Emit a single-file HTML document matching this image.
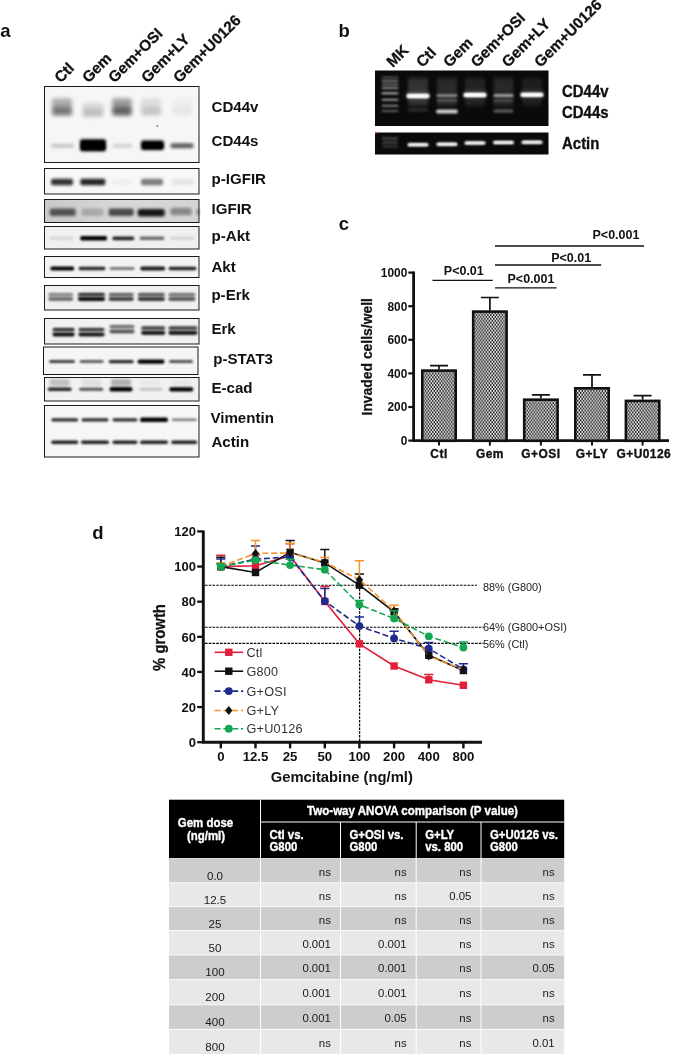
<!DOCTYPE html><html><head><meta charset="utf-8"><title>figure</title>
<style>html,body{margin:0;padding:0;background:#fff}body{width:685px;height:1054px;overflow:hidden}svg{display:block;filter:blur(0.4px)}text{font-family:"Liberation Sans",sans-serif}</style></head><body>
<svg width="685" height="1054" viewBox="0 0 685 1054">
<defs>
<filter id="b1" x="-30%" y="-100%" width="160%" height="300%"><feGaussianBlur stdDeviation="1.2 0.9"/></filter>
<filter id="b2" x="-30%" y="-100%" width="160%" height="300%"><feGaussianBlur stdDeviation="2 2.2"/></filter>
<filter id="b3" x="-30%" y="-100%" width="160%" height="300%"><feGaussianBlur stdDeviation="1.5 1.4"/></filter>
<filter id="g1" x="-30%" y="-100%" width="160%" height="300%"><feGaussianBlur stdDeviation="1.1 0.8"/></filter>
<filter id="g2" x="-30%" y="-100%" width="160%" height="300%"><feGaussianBlur stdDeviation="1.6 2.2"/></filter>
<pattern id="chk" width="2.9" height="3.9" patternUnits="userSpaceOnUse"><rect width="2.9" height="3.9" fill="#1c1c1c"/><circle cx="0.725" cy="0.975" r="0.96" fill="#fff"/><circle cx="2.175" cy="2.925" r="0.96" fill="#fff"/></pattern>
<linearGradient id="igf" x1="0" x2="1" y1="0" y2="0"><stop offset="0" stop-color="#c9c9c9"/><stop offset="0.5" stop-color="#d8d8d8"/><stop offset="1" stop-color="#d4d4d4"/></linearGradient>
</defs>
<rect width="685" height="1054" fill="#fff"/>
<text x="0.2" y="36.5" font-size="18.5" font-weight="bold" text-anchor="start" fill="#111" >a</text>
<text transform="translate(60.7,83.5) rotate(-45)" font-size="15.3" font-weight="bold" fill="#111" stroke="#111" stroke-width="0.3">Ctl</text>
<text transform="translate(88.4,83.5) rotate(-45)" font-size="15.3" font-weight="bold" fill="#111" stroke="#111" stroke-width="0.3">Gem</text>
<text transform="translate(114.5,83.5) rotate(-45)" font-size="15.3" font-weight="bold" fill="#111" stroke="#111" stroke-width="0.3">Gem+OSI</text>
<text transform="translate(147.6,83.5) rotate(-45)" font-size="15.3" font-weight="bold" fill="#111" stroke="#111" stroke-width="0.3">Gem+LY</text>
<text transform="translate(179.5,83.5) rotate(-45)" font-size="15.3" font-weight="bold" fill="#111" stroke="#111" stroke-width="0.3">Gem+U0126</text>
<rect x="44.5" y="86.5" width="154.5" height="76" fill="#f6f6f6" stroke="#1a1a1a" stroke-width="1"/>
<rect x="44.5" y="168.5" width="154.5" height="25.5" fill="#f7f7f7" stroke="#1a1a1a" stroke-width="1"/>
<rect x="44.5" y="199.5" width="154.5" height="23" fill="url(#igf)" stroke="#1a1a1a" stroke-width="1"/>
<rect x="44.5" y="226.5" width="154.5" height="22.5" fill="#f0f0f0" stroke="#1a1a1a" stroke-width="1"/>
<rect x="44.5" y="256.5" width="154.5" height="21" fill="#f3f3f3" stroke="#1a1a1a" stroke-width="1"/>
<rect x="44.5" y="285.5" width="154.5" height="24.5" fill="#f0f0f0" stroke="#1a1a1a" stroke-width="1"/>
<rect x="44.5" y="318.5" width="154.5" height="25.5" fill="#f1f1f1" stroke="#1a1a1a" stroke-width="1"/>
<rect x="43.5" y="347" width="154.5" height="27.5" fill="#f5f5f5" stroke="#1a1a1a" stroke-width="1"/>
<rect x="44.5" y="377.5" width="154.5" height="23.5" fill="#f1f1f1" stroke="#1a1a1a" stroke-width="1"/>
<rect x="44.5" y="405.5" width="154.5" height="51.5" fill="#f6f6f6" stroke="#1a1a1a" stroke-width="1"/>
<rect x="52.0" y="98.5" width="20" height="17" rx="2.0" fill="#000" opacity="0.31" filter="url(#b2)"/>
<rect x="52.5" y="107.0" width="19" height="8" rx="2.0" fill="#000" opacity="0.3" filter="url(#b2)"/>
<rect x="82.5" y="102.9" width="21" height="13" rx="2.0" fill="#000" opacity="0.124" filter="url(#b2)"/>
<rect x="83.0" y="109.0" width="20" height="8" rx="2.0" fill="#000" opacity="0.12" filter="url(#b2)"/>
<rect x="112.2" y="98.5" width="19.5" height="17" rx="2.0" fill="#000" opacity="0.372" filter="url(#b2)"/>
<rect x="112.8" y="107.0" width="18.5" height="8" rx="2.0" fill="#000" opacity="0.36" filter="url(#b2)"/>
<rect x="141.0" y="98.5" width="20" height="17" rx="2.0" fill="#000" opacity="0.10540000000000001" filter="url(#b2)"/>
<rect x="141.5" y="107.0" width="19" height="8" rx="2.0" fill="#000" opacity="0.10200000000000001" filter="url(#b2)"/>
<rect x="172.4" y="98.5" width="20" height="17" rx="2.0" fill="#000" opacity="0.031" filter="url(#b2)"/>
<rect x="172.9" y="107.0" width="19" height="8" rx="2.0" fill="#000" opacity="0.03" filter="url(#b2)"/>
<rect x="51.0" y="143.8" width="23" height="4" rx="2.0" fill="#000" opacity="0.2" filter="url(#b3)"/>
<rect x="80.0" y="139.3" width="26" height="12" rx="2.0" fill="#000" opacity="1" filter="url(#b3)"/>
<rect x="81.5" y="141.5" width="23" height="8" rx="2.0" fill="#000" opacity="1" filter="url(#b1)"/>
<rect x="112.5" y="143.8" width="20" height="4" rx="2.0" fill="#000" opacity="0.14" filter="url(#b3)"/>
<rect x="141.0" y="140.6" width="23" height="9.5" rx="2.0" fill="#000" opacity="1" filter="url(#b3)"/>
<rect x="142.5" y="142.8" width="20" height="5.5" rx="2.0" fill="#000" opacity="1" filter="url(#b1)"/>
<rect x="170.5" y="143.3" width="23" height="5" rx="2.0" fill="#000" opacity="0.62" filter="url(#b3)"/>
<circle cx="157.3" cy="125.9" r="0.9" fill="#555" opacity="0.8"/>
<rect x="51.0" y="178.8" width="22" height="6.5" rx="2.0" fill="#000" opacity="0.8" filter="url(#b3)"/>
<rect x="80.3" y="178.8" width="25" height="6.5" rx="2.0" fill="#000" opacity="0.85" filter="url(#b3)"/>
<rect x="112.0" y="178.8" width="20" height="6.5" rx="2.0" fill="#000" opacity="0.03" filter="url(#b3)"/>
<rect x="141.0" y="178.8" width="22" height="6.5" rx="2.0" fill="#000" opacity="0.5" filter="url(#b3)"/>
<rect x="172.0" y="178.8" width="22" height="6.5" rx="2.0" fill="#000" opacity="0.07" filter="url(#b3)"/>
<rect x="49.8" y="208.6" width="26" height="7.5" rx="2.0" fill="#000" opacity="0.6" filter="url(#b3)"/>
<rect x="81.5" y="208.6" width="22" height="7.5" rx="2.0" fill="#000" opacity="0.2" filter="url(#b3)"/>
<rect x="108.7" y="208.6" width="25" height="7.5" rx="2.0" fill="#000" opacity="0.66" filter="url(#b3)"/>
<rect x="137.7" y="209.1" width="27" height="7.5" rx="2.0" fill="#000" opacity="0.9" filter="url(#b3)"/>
<rect x="170.5" y="207.8" width="21" height="7.5" rx="2.0" fill="#000" opacity="0.36" filter="url(#b3)"/>
<rect x="196.5" y="209.0" width="3" height="6" rx="2.0" fill="#000" opacity="0.4" filter="url(#b3)"/>
<rect x="49.5" y="236.8" width="24" height="3" rx="1.5" fill="#000" opacity="0.1" filter="url(#b1)"/>
<rect x="80.1" y="236.1" width="27" height="4.4" rx="2.0" fill="#000" opacity="1" filter="url(#b1)"/>
<rect x="112.3" y="236.4" width="22" height="3.8" rx="1.9" fill="#000" opacity="0.85" filter="url(#b1)"/>
<rect x="139.5" y="236.6" width="25" height="3.5" rx="1.8" fill="#000" opacity="0.55" filter="url(#b1)"/>
<rect x="170.4" y="236.8" width="24" height="3" rx="1.5" fill="#000" opacity="0.12" filter="url(#b1)"/>
<rect x="50.3" y="266.4" width="24" height="4.2" rx="2.0" fill="#000" opacity="1" filter="url(#b1)"/>
<rect x="78.5" y="266.7" width="27" height="3.6" rx="1.8" fill="#000" opacity="0.85" filter="url(#b1)"/>
<rect x="109.7" y="267.0" width="25" height="3" rx="1.5" fill="#000" opacity="0.5" filter="url(#b1)"/>
<rect x="140.2" y="266.6" width="25" height="3.8" rx="1.9" fill="#000" opacity="0.9" filter="url(#b1)"/>
<rect x="168.5" y="266.7" width="28" height="3.6" rx="1.8" fill="#000" opacity="0.88" filter="url(#b1)"/>
<rect x="48.7" y="293.0" width="24" height="8" rx="2.0" fill="#000" opacity="0.14" filter="url(#b3)"/>
<rect x="48.2" y="293.1" width="25" height="3" rx="1.5" fill="#000" opacity="0.36" filter="url(#b1)"/>
<rect x="48.2" y="297.2" width="25" height="3.6" rx="1.8" fill="#000" opacity="0.5" filter="url(#b1)"/>
<rect x="78.5" y="293.0" width="26" height="8" rx="2.0" fill="#000" opacity="0.28" filter="url(#b3)"/>
<rect x="78.0" y="293.1" width="27" height="3" rx="1.5" fill="#000" opacity="0.72" filter="url(#b1)"/>
<rect x="78.0" y="297.2" width="27" height="3.6" rx="1.8" fill="#000" opacity="1" filter="url(#b1)"/>
<rect x="109.2" y="293.0" width="24" height="8" rx="2.0" fill="#000" opacity="0.196" filter="url(#b3)"/>
<rect x="108.7" y="293.1" width="25" height="3" rx="1.5" fill="#000" opacity="0.504" filter="url(#b1)"/>
<rect x="108.7" y="297.2" width="25" height="3.6" rx="1.8" fill="#000" opacity="0.7" filter="url(#b1)"/>
<rect x="138.4" y="293.0" width="26" height="8" rx="2.0" fill="#000" opacity="0.21280000000000002" filter="url(#b3)"/>
<rect x="137.9" y="293.1" width="27" height="3" rx="1.5" fill="#000" opacity="0.5472" filter="url(#b1)"/>
<rect x="137.9" y="297.2" width="27" height="3.6" rx="1.8" fill="#000" opacity="0.76" filter="url(#b1)"/>
<rect x="168.9" y="293.0" width="26" height="8" rx="2.0" fill="#000" opacity="0.168" filter="url(#b3)"/>
<rect x="168.4" y="293.1" width="27" height="3" rx="1.5" fill="#000" opacity="0.432" filter="url(#b1)"/>
<rect x="168.4" y="297.2" width="27" height="3.6" rx="1.8" fill="#000" opacity="0.6" filter="url(#b1)"/>
<rect x="53.1" y="328.2" width="21" height="8" rx="2.0" fill="#000" opacity="0.2375" filter="url(#b3)"/>
<rect x="52.6" y="328.1" width="22" height="3" rx="1.5" fill="#000" opacity="0.76" filter="url(#b1)"/>
<rect x="52.6" y="332.7" width="22" height="3.6" rx="1.8" fill="#000" opacity="0.95" filter="url(#b1)"/>
<rect x="79.0" y="328.2" width="25" height="8" rx="2.0" fill="#000" opacity="0.225" filter="url(#b3)"/>
<rect x="78.5" y="328.1" width="26" height="3" rx="1.5" fill="#000" opacity="0.7200000000000001" filter="url(#b1)"/>
<rect x="78.5" y="332.7" width="26" height="3.6" rx="1.8" fill="#000" opacity="0.9" filter="url(#b1)"/>
<rect x="110.0" y="325.2" width="24" height="8" rx="2.0" fill="#000" opacity="0.15" filter="url(#b3)"/>
<rect x="109.5" y="325.1" width="25" height="3" rx="1.5" fill="#000" opacity="0.48" filter="url(#b1)"/>
<rect x="109.5" y="329.7" width="25" height="3.6" rx="1.8" fill="#000" opacity="0.6" filter="url(#b1)"/>
<rect x="141.7" y="326.6" width="23" height="8" rx="2.0" fill="#000" opacity="0.225" filter="url(#b3)"/>
<rect x="141.2" y="326.5" width="24" height="3" rx="1.5" fill="#000" opacity="0.7200000000000001" filter="url(#b1)"/>
<rect x="141.2" y="331.1" width="24" height="3.6" rx="1.8" fill="#000" opacity="0.9" filter="url(#b1)"/>
<rect x="169.0" y="326.6" width="28" height="8" rx="2.0" fill="#000" opacity="0.225" filter="url(#b3)"/>
<rect x="168.5" y="326.5" width="29" height="3" rx="1.5" fill="#000" opacity="0.7200000000000001" filter="url(#b1)"/>
<rect x="168.5" y="331.1" width="29" height="3.6" rx="1.8" fill="#000" opacity="0.9" filter="url(#b1)"/>
<rect x="49.0" y="360.1" width="26" height="3" rx="1.5" fill="#000" opacity="0.75" filter="url(#b1)"/>
<rect x="79.7" y="360.1" width="24" height="3" rx="1.5" fill="#000" opacity="0.62" filter="url(#b1)"/>
<rect x="108.7" y="359.9" width="25" height="3.4" rx="1.7" fill="#000" opacity="0.85" filter="url(#b1)"/>
<rect x="137.5" y="359.4" width="27" height="4.4" rx="2.0" fill="#000" opacity="1" filter="url(#b1)"/>
<rect x="169.0" y="360.1" width="24" height="3" rx="1.5" fill="#000" opacity="0.68" filter="url(#b1)"/>
<rect x="47.7" y="387.6" width="24" height="3.4" rx="1.7" fill="#000" opacity="0.85" filter="url(#b1)"/>
<rect x="79.2" y="387.8" width="24" height="3" rx="1.5" fill="#000" opacity="0.68" filter="url(#b1)"/>
<rect x="109.5" y="387.0" width="23" height="4.6" rx="2.0" fill="#000" opacity="1" filter="url(#b1)"/>
<rect x="139.5" y="388.1" width="23" height="2.4" rx="1.2" fill="#000" opacity="0.22" filter="url(#b1)"/>
<rect x="169.3" y="387.2" width="24" height="4.2" rx="2.0" fill="#000" opacity="1" filter="url(#b1)"/>
<rect x="49.7" y="379.0" width="20" height="7" rx="2.0" fill="#000" opacity="0.2" filter="url(#b3)"/>
<rect x="81.2" y="379.0" width="20" height="7" rx="2.0" fill="#000" opacity="0.07" filter="url(#b3)"/>
<rect x="111.0" y="379.0" width="20" height="7" rx="2.0" fill="#000" opacity="0.28" filter="url(#b3)"/>
<rect x="141.0" y="379.0" width="20" height="7" rx="2.0" fill="#000" opacity="0.03" filter="url(#b3)"/>
<rect x="171.3" y="379.0" width="20" height="7" rx="2.0" fill="#000" opacity="0.03" filter="url(#b3)"/>
<rect x="51.2" y="418.2" width="27" height="3.2" rx="1.6" fill="#000" opacity="0.82" filter="url(#b1)"/>
<rect x="81.5" y="418.2" width="27" height="3.2" rx="1.6" fill="#000" opacity="0.82" filter="url(#b1)"/>
<rect x="112.4" y="418.2" width="25" height="3.2" rx="1.6" fill="#000" opacity="0.82" filter="url(#b1)"/>
<rect x="140.0" y="417.6" width="28" height="4.4" rx="2.0" fill="#000" opacity="1" filter="url(#b1)"/>
<rect x="171.7" y="418.5" width="25" height="2.6" rx="1.3" fill="#000" opacity="0.5" filter="url(#b1)"/>
<rect x="51.2" y="440.6" width="27" height="3.4" rx="1.7" fill="#000" opacity="0.88" filter="url(#b1)"/>
<rect x="81.0" y="440.6" width="28" height="3.4" rx="1.7" fill="#000" opacity="0.88" filter="url(#b1)"/>
<rect x="112.4" y="440.6" width="25" height="3.4" rx="1.7" fill="#000" opacity="0.88" filter="url(#b1)"/>
<rect x="140.0" y="440.6" width="28" height="3.4" rx="1.7" fill="#000" opacity="0.88" filter="url(#b1)"/>
<rect x="171.2" y="440.6" width="26" height="3.4" rx="1.7" fill="#000" opacity="0.88" filter="url(#b1)"/>
<text x="211.5" y="112.2" font-size="15.1" font-weight="bold" text-anchor="start" fill="#111" >CD44v</text>
<text x="211.5" y="146.2" font-size="15.1" font-weight="bold" text-anchor="start" fill="#111" >CD44s</text>
<text x="211.5" y="183.7" font-size="15.1" font-weight="bold" text-anchor="start" fill="#111" >p-IGFIR</text>
<text x="211.5" y="213.7" font-size="15.1" font-weight="bold" text-anchor="start" fill="#111" >IGFIR</text>
<text x="211.5" y="240.7" font-size="15.1" font-weight="bold" text-anchor="start" fill="#111" >p-Akt</text>
<text x="211.4" y="272.09999999999997" font-size="15.1" font-weight="bold" text-anchor="start" fill="#111" >Akt</text>
<text x="211.4" y="299.5" font-size="15.1" font-weight="bold" text-anchor="start" fill="#111" >p-Erk</text>
<text x="211.4" y="334.09999999999997" font-size="15.1" font-weight="bold" text-anchor="start" fill="#111" >Erk</text>
<text x="213.2" y="364.3" font-size="15.1" font-weight="bold" text-anchor="start" fill="#111" >p-STAT3</text>
<text x="211.4" y="393.0" font-size="15.1" font-weight="bold" text-anchor="start" fill="#111" >E-cad</text>
<text x="210.4" y="423.3" font-size="15.1" font-weight="bold" text-anchor="start" fill="#111" >Vimentin</text>
<text x="211.4" y="447.0" font-size="15.1" font-weight="bold" text-anchor="start" fill="#111" >Actin</text>
<text x="338.4" y="36.5" font-size="18.5" font-weight="bold" text-anchor="start" fill="#111" >b</text>
<text transform="translate(392.8,68) rotate(-45)" font-size="15.3" font-weight="bold" fill="#111" stroke="#111" stroke-width="0.3">MK</text>
<text transform="translate(422.5,68) rotate(-45)" font-size="15.3" font-weight="bold" fill="#111" stroke="#111" stroke-width="0.3">Ctl</text>
<text transform="translate(449.5,68) rotate(-45)" font-size="15.3" font-weight="bold" fill="#111" stroke="#111" stroke-width="0.3">Gem</text>
<text transform="translate(476.9,68) rotate(-45)" font-size="15.3" font-weight="bold" fill="#111" stroke="#111" stroke-width="0.3">Gem+OSI</text>
<text transform="translate(508,68) rotate(-45)" font-size="15.3" font-weight="bold" fill="#111" stroke="#111" stroke-width="0.3">Gem+LY</text>
<text transform="translate(540.6,68) rotate(-45)" font-size="15.3" font-weight="bold" fill="#111" stroke="#111" stroke-width="0.3">Gem+U0126</text>
<rect x="375" y="70.5" width="173.5" height="55.5" fill="#0a0a0a"/>
<rect x="375" y="132.5" width="173.5" height="22" fill="#0a0a0a"/>
<rect x="408" y="78" width="20" height="28" fill="#fff" opacity="0.16" filter="url(#g2)"/>
<rect x="437" y="78" width="20" height="28" fill="#fff" opacity="0.13" filter="url(#g2)"/>
<rect x="465" y="78" width="20" height="28" fill="#fff" opacity="0.1" filter="url(#g2)"/>
<rect x="493.5" y="78" width="20" height="28" fill="#fff" opacity="0.12" filter="url(#g2)"/>
<rect x="522" y="78" width="20" height="28" fill="#fff" opacity="0.08" filter="url(#g2)"/>
<rect x="381.5" y="76.5" width="17" height="2" rx="1.0" fill="#fff" opacity="0.3" filter="url(#g1)"/>
<rect x="381.5" y="80.0" width="17" height="2" rx="1.0" fill="#fff" opacity="0.45" filter="url(#g1)"/>
<rect x="381.5" y="83.5" width="17" height="2" rx="1.0" fill="#fff" opacity="0.45" filter="url(#g1)"/>
<rect x="381.5" y="87.0" width="17" height="2" rx="1.0" fill="#fff" opacity="0.55" filter="url(#g1)"/>
<rect x="381.5" y="92.3" width="17" height="2" rx="1.0" fill="#fff" opacity="0.7" filter="url(#g1)"/>
<rect x="381.5" y="98.7" width="17" height="2" rx="1.0" fill="#fff" opacity="0.6" filter="url(#g1)"/>
<rect x="381.5" y="104.8" width="17" height="2" rx="1.0" fill="#fff" opacity="0.5" filter="url(#g1)"/>
<rect x="381.5" y="110.0" width="17" height="2" rx="1.0" fill="#fff" opacity="0.35" filter="url(#g1)"/>
<rect x="406.5" y="93.9" width="23" height="4.2" rx="2.0" fill="#fff" opacity="1" filter="url(#g1)"/>
<rect x="407.5" y="94.7" width="21" height="2.6" rx="1.3" fill="#fff" opacity="1" filter="url(#g1)"/>
<rect x="406.0" y="92.5" width="24" height="6" rx="2.0" fill="#fff" opacity="0.22" filter="url(#g2)"/>
<rect x="408.0" y="108.5" width="20" height="3" rx="1.5" fill="#fff" opacity="0.14" filter="url(#g1)"/>
<rect x="436.5" y="94.2" width="21" height="2.5" rx="1.2" fill="#fff" opacity="0.5" filter="url(#g1)"/>
<rect x="436.5" y="99.5" width="21" height="2" rx="1.0" fill="#fff" opacity="0.28" filter="url(#g1)"/>
<rect x="436.0" y="109.4" width="22" height="4.2" rx="2.0" fill="#fff" opacity="0.8" filter="url(#g1)"/>
<rect x="463.5" y="93.1" width="23" height="3.8" rx="1.9" fill="#fff" opacity="1" filter="url(#g1)"/>
<rect x="464.5" y="93.8" width="21" height="2.4" rx="1.2" fill="#fff" opacity="1" filter="url(#g1)"/>
<rect x="463.0" y="91.5" width="24" height="6" rx="2.0" fill="#fff" opacity="0.2" filter="url(#g2)"/>
<rect x="493.5" y="94.0" width="20" height="3" rx="1.5" fill="#fff" opacity="0.55" filter="url(#g1)"/>
<rect x="493.5" y="99.5" width="20" height="2" rx="1.0" fill="#fff" opacity="0.2" filter="url(#g1)"/>
<rect x="493.5" y="109.2" width="20" height="3.5" rx="1.8" fill="#fff" opacity="0.32" filter="url(#g1)"/>
<rect x="520.5" y="92.9" width="23" height="3.8" rx="1.9" fill="#fff" opacity="1" filter="url(#g1)"/>
<rect x="521.5" y="93.6" width="21" height="2.4" rx="1.2" fill="#fff" opacity="1" filter="url(#g1)"/>
<rect x="520.0" y="91.3" width="24" height="6" rx="2.0" fill="#fff" opacity="0.2" filter="url(#g2)"/>
<rect x="382.0" y="137.6" width="16" height="1.8" rx="0.9" fill="#fff" opacity="0.3" filter="url(#g1)"/>
<rect x="382.0" y="141.6" width="16" height="1.8" rx="0.9" fill="#fff" opacity="0.28" filter="url(#g1)"/>
<rect x="382.0" y="145.6" width="16" height="1.8" rx="0.9" fill="#fff" opacity="0.2" filter="url(#g1)"/>
<rect x="407.5" y="143.3" width="21" height="3" rx="1.5" fill="#fff" opacity="1" filter="url(#g1)"/>
<rect x="408.5" y="143.8" width="19" height="2" rx="1.0" fill="#fff" opacity="0.8" filter="url(#g1)"/>
<rect x="436.5" y="142.7" width="21" height="3" rx="1.5" fill="#fff" opacity="1" filter="url(#g1)"/>
<rect x="437.5" y="143.2" width="19" height="2" rx="1.0" fill="#fff" opacity="0.8" filter="url(#g1)"/>
<rect x="464.5" y="141.5" width="21" height="3" rx="1.5" fill="#fff" opacity="1" filter="url(#g1)"/>
<rect x="465.5" y="142.0" width="19" height="2" rx="1.0" fill="#fff" opacity="0.8" filter="url(#g1)"/>
<rect x="493.0" y="141.0" width="21" height="3" rx="1.5" fill="#fff" opacity="1" filter="url(#g1)"/>
<rect x="494.0" y="141.5" width="19" height="2" rx="1.0" fill="#fff" opacity="0.8" filter="url(#g1)"/>
<rect x="521.5" y="140.8" width="21" height="3" rx="1.5" fill="#fff" opacity="1" filter="url(#g1)"/>
<rect x="522.5" y="141.3" width="19" height="2" rx="1.0" fill="#fff" opacity="0.8" filter="url(#g1)"/>
<rect x="375" y="132.5" width="2" height="1.2" fill="#e02020"/>
<text transform="translate(562.1,96.5) scale(0.95,1)" font-size="15.7" font-weight="bold" text-anchor="start" fill="#111" stroke="#111" stroke-width="0.35" >CD44v</text>
<text transform="translate(562.1,117.5) scale(0.95,1)" font-size="15.7" font-weight="bold" text-anchor="start" fill="#111" stroke="#111" stroke-width="0.35" >CD44s</text>
<text transform="translate(562.1,148.7) scale(0.95,1)" font-size="15.7" font-weight="bold" text-anchor="start" fill="#111" stroke="#111" stroke-width="0.35" >Actin</text>
<text x="338.7" y="229.5" font-size="18.5" font-weight="bold" text-anchor="start" fill="#111" >c</text>
<path d="M413.6,271.6V440.6H669" fill="none" stroke="#111" stroke-width="2.8"/>
<line x1="408.3" x2="413.6" y1="440.6" y2="440.6" stroke="#111" stroke-width="2.2"/>
<text x="407.3" y="444.90000000000003" font-size="11.9" font-weight="bold" text-anchor="end" fill="#111" >0</text>
<line x1="408.3" x2="413.6" y1="407.0" y2="407.0" stroke="#111" stroke-width="2.2"/>
<text x="407.3" y="411.3" font-size="11.9" font-weight="bold" text-anchor="end" fill="#111" >200</text>
<line x1="408.3" x2="413.6" y1="373.40000000000003" y2="373.40000000000003" stroke="#111" stroke-width="2.2"/>
<text x="407.3" y="377.70000000000005" font-size="11.9" font-weight="bold" text-anchor="end" fill="#111" >400</text>
<line x1="408.3" x2="413.6" y1="339.8" y2="339.8" stroke="#111" stroke-width="2.2"/>
<text x="407.3" y="344.1" font-size="11.9" font-weight="bold" text-anchor="end" fill="#111" >600</text>
<line x1="408.3" x2="413.6" y1="306.20000000000005" y2="306.20000000000005" stroke="#111" stroke-width="2.2"/>
<text x="407.3" y="310.50000000000006" font-size="11.9" font-weight="bold" text-anchor="end" fill="#111" >800</text>
<line x1="408.3" x2="413.6" y1="272.6" y2="272.6" stroke="#111" stroke-width="2.2"/>
<text x="407.3" y="276.90000000000003" font-size="11.9" font-weight="bold" text-anchor="end" fill="#111" >1000</text>
<path d="M439.0,369.4V365.7M430.0,365.7H448.0" stroke="#111" stroke-width="1.7" fill="none"/>
<rect x="422.3" y="370.59999999999997" width="33.4" height="70.20000000000005" fill="url(#chk)" stroke="#111" stroke-width="2.6"/>
<line x1="439.0" x2="439.0" y1="440.6" y2="445.6" stroke="#111" stroke-width="2"/>
<text transform="translate(439.0,457.6) scale(0.95,1)" font-size="12.6" font-weight="bold" text-anchor="middle" fill="#111" stroke="#111" stroke-width="0.35" letter-spacing="0.5">Ctl</text>
<path d="M489.9,310.4V297.5M480.9,297.5H498.9" stroke="#111" stroke-width="1.7" fill="none"/>
<rect x="473.2" y="311.59999999999997" width="33.4" height="129.20000000000005" fill="url(#chk)" stroke="#111" stroke-width="2.6"/>
<line x1="489.9" x2="489.9" y1="440.6" y2="445.6" stroke="#111" stroke-width="2"/>
<text transform="translate(489.9,457.6) scale(0.95,1)" font-size="12.6" font-weight="bold" text-anchor="middle" fill="#111" stroke="#111" stroke-width="0.35" letter-spacing="0.5">Gem</text>
<path d="M540.9,398.5V394.8M531.9,394.8H549.9" stroke="#111" stroke-width="1.7" fill="none"/>
<rect x="524.1999999999999" y="399.7" width="33.4" height="41.10000000000002" fill="url(#chk)" stroke="#111" stroke-width="2.6"/>
<line x1="540.9" x2="540.9" y1="440.6" y2="445.6" stroke="#111" stroke-width="2"/>
<text transform="translate(540.9,457.6) scale(0.95,1)" font-size="12.6" font-weight="bold" text-anchor="middle" fill="#111" stroke="#111" stroke-width="0.35" letter-spacing="0.5">G+OSI</text>
<path d="M592.0,387.1V374.8M583.0,374.8H601.0" stroke="#111" stroke-width="1.7" fill="none"/>
<rect x="575.3" y="388.3" width="33.4" height="52.5" fill="url(#chk)" stroke="#111" stroke-width="2.6"/>
<line x1="592.0" x2="592.0" y1="440.6" y2="445.6" stroke="#111" stroke-width="2"/>
<text transform="translate(592.0,457.6) scale(0.95,1)" font-size="12.6" font-weight="bold" text-anchor="middle" fill="#111" stroke="#111" stroke-width="0.35" letter-spacing="0.5">G+LY</text>
<path d="M642.6,399.7V395.6M633.6,395.6H651.6" stroke="#111" stroke-width="1.7" fill="none"/>
<rect x="625.9" y="400.9" width="33.4" height="39.900000000000034" fill="url(#chk)" stroke="#111" stroke-width="2.6"/>
<line x1="642.6" x2="642.6" y1="440.6" y2="445.6" stroke="#111" stroke-width="2"/>
<text transform="translate(643.8000000000001,457.6) scale(0.95,1)" font-size="12.6" font-weight="bold" text-anchor="middle" fill="#111" stroke="#111" stroke-width="0.35" letter-spacing="0.5">G+U0126</text>
<text transform="translate(372.2,356.8) rotate(-90)" stroke="#111" stroke-width="0.25" font-size="13.9" font-weight="bold" text-anchor="middle" fill="#111">Invaded cells/well</text>
<line x1="432.5" x2="492.7" y1="280.4" y2="280.4" stroke="#111" stroke-width="1.3"/>
<line x1="495" x2="556.6" y1="287.8" y2="287.8" stroke="#111" stroke-width="1.3"/>
<line x1="495" x2="601.2" y1="265" y2="265" stroke="#111" stroke-width="1.3"/>
<line x1="495" x2="644" y1="246" y2="246" stroke="#111" stroke-width="1.3"/>
<text x="443.8" y="275" font-size="12.5" font-weight="bold" text-anchor="start" fill="#111" >P&lt;0.01</text>
<text x="507.5" y="282.7" font-size="12.5" font-weight="bold" text-anchor="start" fill="#111" >P&lt;0.001</text>
<text x="551.2" y="261.5" font-size="12.5" font-weight="bold" text-anchor="start" fill="#111" >P&lt;0.01</text>
<text x="592.5" y="239" font-size="12.5" font-weight="bold" text-anchor="start" fill="#111" >P&lt;0.001</text>
<text x="92.2" y="539.2" font-size="18.5" font-weight="bold" text-anchor="start" fill="#111" >d</text>
<path d="M203.3,530.4200000000001V742.2H482" fill="none" stroke="#111" stroke-width="2.9"/>
<line x1="197.2" x2="203.3" y1="742.2" y2="742.2" stroke="#111" stroke-width="2.3"/>
<text x="196" y="746.9000000000001" font-size="13" font-weight="bold" text-anchor="end" fill="#111" >0</text>
<line x1="197.2" x2="203.3" y1="707.07" y2="707.07" stroke="#111" stroke-width="2.3"/>
<text x="196" y="711.7700000000001" font-size="13" font-weight="bold" text-anchor="end" fill="#111" >20</text>
<line x1="197.2" x2="203.3" y1="671.94" y2="671.94" stroke="#111" stroke-width="2.3"/>
<text x="196" y="676.6400000000001" font-size="13" font-weight="bold" text-anchor="end" fill="#111" >40</text>
<line x1="197.2" x2="203.3" y1="636.8100000000001" y2="636.8100000000001" stroke="#111" stroke-width="2.3"/>
<text x="196" y="641.5100000000001" font-size="13" font-weight="bold" text-anchor="end" fill="#111" >60</text>
<line x1="197.2" x2="203.3" y1="601.6800000000001" y2="601.6800000000001" stroke="#111" stroke-width="2.3"/>
<text x="196" y="606.3800000000001" font-size="13" font-weight="bold" text-anchor="end" fill="#111" >80</text>
<line x1="197.2" x2="203.3" y1="566.5500000000001" y2="566.5500000000001" stroke="#111" stroke-width="2.3"/>
<text x="196" y="571.2500000000001" font-size="13" font-weight="bold" text-anchor="end" fill="#111" >100</text>
<line x1="197.2" x2="203.3" y1="531.4200000000001" y2="531.4200000000001" stroke="#111" stroke-width="2.3"/>
<text x="196" y="536.1200000000001" font-size="13" font-weight="bold" text-anchor="end" fill="#111" >120</text>
<line x1="220.8" x2="220.8" y1="742.2" y2="748.4000000000001" stroke="#111" stroke-width="2.4"/>
<text x="220.8" y="761.2" font-size="13.2" font-weight="bold" text-anchor="middle" fill="#111" >0</text>
<line x1="255.5" x2="255.5" y1="742.2" y2="748.4000000000001" stroke="#111" stroke-width="2.4"/>
<text x="255.5" y="761.2" font-size="13.2" font-weight="bold" text-anchor="middle" fill="#111" >12.5</text>
<line x1="290.1" x2="290.1" y1="742.2" y2="748.4000000000001" stroke="#111" stroke-width="2.4"/>
<text x="290.1" y="761.2" font-size="13.2" font-weight="bold" text-anchor="middle" fill="#111" >25</text>
<line x1="324.8" x2="324.8" y1="742.2" y2="748.4000000000001" stroke="#111" stroke-width="2.4"/>
<text x="324.8" y="761.2" font-size="13.2" font-weight="bold" text-anchor="middle" fill="#111" >50</text>
<line x1="359.4" x2="359.4" y1="742.2" y2="748.4000000000001" stroke="#111" stroke-width="2.4"/>
<text x="359.4" y="761.2" font-size="13.2" font-weight="bold" text-anchor="middle" fill="#111" >100</text>
<line x1="394.1" x2="394.1" y1="742.2" y2="748.4000000000001" stroke="#111" stroke-width="2.4"/>
<text x="394.1" y="761.2" font-size="13.2" font-weight="bold" text-anchor="middle" fill="#111" >200</text>
<line x1="428.8" x2="428.8" y1="742.2" y2="748.4000000000001" stroke="#111" stroke-width="2.4"/>
<text x="428.8" y="761.2" font-size="13.2" font-weight="bold" text-anchor="middle" fill="#111" >400</text>
<line x1="463.4" x2="463.4" y1="742.2" y2="748.4000000000001" stroke="#111" stroke-width="2.4"/>
<text x="463.4" y="761.2" font-size="13.2" font-weight="bold" text-anchor="middle" fill="#111" >800</text>
<text x="341.8" y="782.4" font-size="14.8" font-weight="bold" text-anchor="middle" fill="#111" >Gemcitabine (ng/ml)</text>
<text transform="translate(165.2,637.5) rotate(-90) scale(0.93,1)" stroke="#111" stroke-width="0.3" font-size="16" font-weight="bold" text-anchor="middle" fill="#111">% growth</text>
<line x1="205" x2="477" y1="585.2" y2="585.2" stroke="#000" stroke-width="1.15" stroke-dasharray="2.6 1.15"/>
<text x="483" y="591" font-size="10.9" font-weight="normal" text-anchor="start" fill="#222" >88% (G800)</text>
<line x1="205" x2="483.5" y1="627.2" y2="627.2" stroke="#000" stroke-width="1.15" stroke-dasharray="2.6 1.15"/>
<text x="483" y="630.8" font-size="10.9" font-weight="normal" text-anchor="start" fill="#222" >64% (G800+OSI)</text>
<line x1="205" x2="483.5" y1="643.3" y2="643.3" stroke="#000" stroke-width="1.15" stroke-dasharray="2.6 1.15"/>
<text x="483" y="648" font-size="10.9" font-weight="normal" text-anchor="start" fill="#222" >56% (Ctl)</text>
<line x1="359.6" x2="359.6" y1="585" y2="742.2" stroke="#000" stroke-width="1.25" stroke-dasharray="2.6 1.15"/>
<path d="M220.8,566.6V555.3M216.2,555.3H225.4" stroke="#e11f3a" stroke-width="1.5" fill="none"/>
<path d="M255.5,565.7V555.1M250.9,555.1H260.1" stroke="#e11f3a" stroke-width="1.5" fill="none"/>
<path d="M290.1,556.0V543.7M285.5,543.7H294.7" stroke="#e11f3a" stroke-width="1.5" fill="none"/>
<path d="M324.8,601.5V586.6M320.2,586.6H329.4" stroke="#e11f3a" stroke-width="1.5" fill="none"/>
<path d="M428.8,679.8V674.6M424.2,674.6H433.4" stroke="#e11f3a" stroke-width="1.5" fill="none"/>
<polyline points="220.8,566.6 255.5,565.7 290.1,556.0 324.8,601.5 359.4,643.8 394.1,666.0 428.8,679.8 463.4,685.3" fill="none" stroke="#e11f3a" stroke-width="1.6" />
<rect x="217.1" y="562.9" width="7.4" height="7.4" fill="#e11f3a"/>
<rect x="251.8" y="562.0" width="7.4" height="7.4" fill="#e11f3a"/>
<rect x="286.4" y="552.3" width="7.4" height="7.4" fill="#e11f3a"/>
<rect x="321.1" y="597.8" width="7.4" height="7.4" fill="#e11f3a"/>
<rect x="355.7" y="640.1" width="7.4" height="7.4" fill="#e11f3a"/>
<rect x="390.4" y="662.3" width="7.4" height="7.4" fill="#e11f3a"/>
<rect x="425.1" y="676.1" width="7.4" height="7.4" fill="#e11f3a"/>
<rect x="459.7" y="681.6" width="7.4" height="7.4" fill="#e11f3a"/>
<path d="M220.8,566.6V557.2M216.2,557.2H225.4" stroke="#111" stroke-width="1.5" fill="none"/>
<path d="M290.1,552.3V540.4M285.5,540.4H294.7" stroke="#111" stroke-width="1.5" fill="none"/>
<path d="M324.8,562.9V549.5M320.2,549.5H329.4" stroke="#111" stroke-width="1.5" fill="none"/>
<path d="M359.4,585.2V574.1M354.8,574.1H364.0" stroke="#111" stroke-width="1.5" fill="none"/>
<path d="M394.1,611.9V608.9M389.5,608.9H398.7" stroke="#111" stroke-width="1.5" fill="none"/>
<polyline points="220.8,566.6 255.5,572.5 290.1,552.3 324.8,562.9 359.4,585.2 394.1,611.9 428.8,655.3 463.4,670.5" fill="none" stroke="#111" stroke-width="1.6" />
<rect x="217.1" y="562.9" width="7.4" height="7.4" fill="#111"/>
<rect x="251.8" y="568.8" width="7.4" height="7.4" fill="#111"/>
<rect x="286.4" y="548.6" width="7.4" height="7.4" fill="#111"/>
<rect x="321.1" y="559.2" width="7.4" height="7.4" fill="#111"/>
<rect x="355.7" y="581.5" width="7.4" height="7.4" fill="#111"/>
<rect x="390.4" y="608.2" width="7.4" height="7.4" fill="#111"/>
<rect x="425.1" y="651.6" width="7.4" height="7.4" fill="#111"/>
<rect x="459.7" y="666.8" width="7.4" height="7.4" fill="#111"/>
<path d="M220.8,566.6V559.0M216.2,559.0H225.4" stroke="#1f2a8c" stroke-width="1.5" fill="none"/>
<path d="M255.5,559.2V546.0M250.9,546.0H260.1" stroke="#1f2a8c" stroke-width="1.5" fill="none"/>
<path d="M324.8,601.2V588.5M320.2,588.5H329.4" stroke="#1f2a8c" stroke-width="1.5" fill="none"/>
<path d="M359.4,626.1V617.0M354.8,617.0H364.0" stroke="#1f2a8c" stroke-width="1.5" fill="none"/>
<path d="M394.1,638.4V631.2M389.5,631.2H398.7" stroke="#1f2a8c" stroke-width="1.5" fill="none"/>
<path d="M428.8,648.6V642.4M424.2,642.4H433.4" stroke="#1f2a8c" stroke-width="1.5" fill="none"/>
<path d="M463.4,669.3V663.7M458.8,663.7H468.0" stroke="#1f2a8c" stroke-width="1.5" fill="none"/>
<polyline points="220.8,566.6 255.5,559.2 290.1,556.9 324.8,601.2 359.4,626.1 394.1,638.4 428.8,648.6 463.4,669.3" fill="none" stroke="#1f2a8c" stroke-width="1.6" stroke-dasharray='6 2.8'/>
<circle cx="220.8" cy="566.6" r="3.9000000000000004" fill="#1f2a8c"/>
<circle cx="255.5" cy="559.2" r="3.9000000000000004" fill="#1f2a8c"/>
<circle cx="290.1" cy="556.9" r="3.9000000000000004" fill="#1f2a8c"/>
<circle cx="324.8" cy="601.2" r="3.9000000000000004" fill="#1f2a8c"/>
<circle cx="359.4" cy="626.1" r="3.9000000000000004" fill="#1f2a8c"/>
<circle cx="394.1" cy="638.4" r="3.9000000000000004" fill="#1f2a8c"/>
<circle cx="428.8" cy="648.6" r="3.9000000000000004" fill="#1f2a8c"/>
<circle cx="463.4" cy="669.3" r="3.9000000000000004" fill="#1f2a8c"/>
<path d="M220.8,566.6V562.7M216.2,562.7H225.4" stroke="#f5952b" stroke-width="1.5" fill="none"/>
<path d="M255.5,553.4V540.4M250.9,540.4H260.1" stroke="#f5952b" stroke-width="1.5" fill="none"/>
<path d="M290.1,553.0V543.2M285.5,543.2H294.7" stroke="#f5952b" stroke-width="1.5" fill="none"/>
<path d="M324.8,562.2V557.6M320.2,557.6H329.4" stroke="#f5952b" stroke-width="1.5" fill="none"/>
<path d="M359.4,579.7V560.8M354.8,560.8H364.0" stroke="#f5952b" stroke-width="1.5" fill="none"/>
<path d="M394.1,611.0V605.2M389.5,605.2H398.7" stroke="#f5952b" stroke-width="1.5" fill="none"/>
<polyline points="220.8,566.6 255.5,553.4 290.1,553.0 324.8,562.2 359.4,579.7 394.1,611.0 428.8,656.1 463.4,669.7" fill="none" stroke="#f5952b" stroke-width="1.6" stroke-dasharray='6 2.8'/>
<path d="M220.8,562.1L224.5,566.6L220.8,571.1L217.1,566.6Z" fill="#111"/>
<path d="M255.5,548.9L259.2,553.4L255.5,557.9L251.8,553.4Z" fill="#111"/>
<path d="M290.1,548.5L293.8,553.0L290.1,557.5L286.4,553.0Z" fill="#111"/>
<path d="M324.8,557.7L328.5,562.2L324.8,566.7L321.1,562.2Z" fill="#111"/>
<path d="M359.4,575.2L363.1,579.7L359.4,584.2L355.7,579.7Z" fill="#111"/>
<path d="M394.1,606.5L397.8,611.0L394.1,615.5L390.4,611.0Z" fill="#111"/>
<path d="M428.8,651.6L432.5,656.1L428.8,660.6L425.1,656.1Z" fill="#111"/>
<path d="M463.4,665.2L467.1,669.7L463.4,674.2L459.7,669.7Z" fill="#111"/>
<path d="M220.8,566.6V563.9M216.2,563.9H225.4" stroke="#14a651" stroke-width="1.5" fill="none"/>
<path d="M290.1,565.1V559.2M285.5,559.2H294.7" stroke="#14a651" stroke-width="1.5" fill="none"/>
<path d="M359.4,604.7V600.6M354.8,600.6H364.0" stroke="#14a651" stroke-width="1.5" fill="none"/>
<path d="M394.1,618.5V610.8M389.5,610.8H398.7" stroke="#14a651" stroke-width="1.5" fill="none"/>
<path d="M463.4,647.5V641.9M458.8,641.9H468.0" stroke="#14a651" stroke-width="1.5" fill="none"/>
<polyline points="220.8,566.6 255.5,560.1 290.1,565.1 324.8,569.7 359.4,604.7 394.1,618.5 428.8,636.3 463.4,647.5" fill="none" stroke="#14a651" stroke-width="1.6" stroke-dasharray='6 2.8'/>
<circle cx="220.8" cy="566.6" r="3.9000000000000004" fill="#14a651"/>
<circle cx="255.5" cy="560.1" r="3.9000000000000004" fill="#14a651"/>
<circle cx="290.1" cy="565.1" r="3.9000000000000004" fill="#14a651"/>
<circle cx="324.8" cy="569.7" r="3.9000000000000004" fill="#14a651"/>
<circle cx="359.4" cy="604.7" r="3.9000000000000004" fill="#14a651"/>
<circle cx="394.1" cy="618.5" r="3.9000000000000004" fill="#14a651"/>
<circle cx="428.8" cy="636.3" r="3.9000000000000004" fill="#14a651"/>
<circle cx="463.4" cy="647.5" r="3.9000000000000004" fill="#14a651"/>
<line x1="214.6" x2="243.2" y1="652.3" y2="652.3" stroke="#e11f3a" stroke-width="1.6" />
<rect x="225.1" y="648.6" width="7.4" height="7.4" fill="#e11f3a"/>
<text x="246.4" y="656.8" font-size="12.7" font-weight="normal" text-anchor="start" fill="#333" letter-spacing="0.25">Ctl</text>
<line x1="214.6" x2="243.2" y1="671.2" y2="671.2" stroke="#111" stroke-width="1.6" />
<rect x="225.1" y="667.5" width="7.4" height="7.4" fill="#111"/>
<text x="246.4" y="675.7" font-size="12.7" font-weight="normal" text-anchor="start" fill="#333" letter-spacing="0.25">G800</text>
<line x1="214.6" x2="243.2" y1="691.1" y2="691.1" stroke="#1f2a8c" stroke-width="1.6" stroke-dasharray='6 2.8'/>
<circle cx="228.8" cy="691.1" r="3.9000000000000004" fill="#1f2a8c"/>
<text x="246.4" y="695.6" font-size="12.7" font-weight="normal" text-anchor="start" fill="#333" letter-spacing="0.25">G+OSI</text>
<line x1="214.6" x2="243.2" y1="710.5" y2="710.5" stroke="#f5952b" stroke-width="1.6" stroke-dasharray='6 2.8'/>
<path d="M228.8,706.0L232.5,710.5L228.8,715.0L225.1,710.5Z" fill="#111"/>
<text x="246.4" y="715.0" font-size="12.7" font-weight="normal" text-anchor="start" fill="#333" letter-spacing="0.25">G+LY</text>
<line x1="214.6" x2="243.2" y1="728.7" y2="728.7" stroke="#14a651" stroke-width="1.6" stroke-dasharray='6 2.8'/>
<circle cx="228.8" cy="728.7" r="3.9000000000000004" fill="#14a651"/>
<text x="246.4" y="733.2" font-size="12.7" font-weight="normal" text-anchor="start" fill="#333" letter-spacing="0.25">G+U0126</text>
<rect x="169" y="799.7" width="395.20000000000005" height="58.3" fill="#000"/>
<path d="M260.5,799.7V858M260.5,822H564.2M340.5,822V858M416.2,822V858M481,822V858" stroke="#fff" stroke-width="1" fill="none"/>
<text transform="translate(205.5,826.6) scale(0.94,1)" font-size="12.2" font-weight="bold" text-anchor="middle" fill="#fff" stroke="#fff" stroke-width="0.35" >Gem dose</text>
<text transform="translate(206,839.6) scale(0.94,1)" font-size="12.2" font-weight="bold" text-anchor="middle" fill="#fff" stroke="#fff" stroke-width="0.35" >(ng/ml)</text>
<text transform="translate(412.5,815) scale(0.94,1)" font-size="12.3" font-weight="bold" text-anchor="middle" fill="#fff" stroke="#fff" stroke-width="0.35" >Two-way ANOVA comparison (P value)</text>
<text transform="translate(269.5,838.9) scale(0.94,1)" font-size="12.1" font-weight="bold" text-anchor="start" fill="#fff" stroke="#fff" stroke-width="0.35" >Ctl vs.</text>
<text transform="translate(269.5,850.8) scale(0.94,1)" font-size="12.1" font-weight="bold" text-anchor="start" fill="#fff" stroke="#fff" stroke-width="0.35" >G800</text>
<text transform="translate(349.5,838.9) scale(0.94,1)" font-size="12.1" font-weight="bold" text-anchor="start" fill="#fff" stroke="#fff" stroke-width="0.35" >G+OSI vs.</text>
<text transform="translate(349.5,850.8) scale(0.94,1)" font-size="12.1" font-weight="bold" text-anchor="start" fill="#fff" stroke="#fff" stroke-width="0.35" >G800</text>
<text transform="translate(425.2,838.9) scale(0.94,1)" font-size="12.1" font-weight="bold" text-anchor="start" fill="#fff" stroke="#fff" stroke-width="0.35" >G+LY</text>
<text transform="translate(425.2,850.8) scale(0.94,1)" font-size="12.1" font-weight="bold" text-anchor="start" fill="#fff" stroke="#fff" stroke-width="0.35" >vs. 800</text>
<text transform="translate(490,838.9) scale(0.94,1)" font-size="12.1" font-weight="bold" text-anchor="start" fill="#fff" stroke="#fff" stroke-width="0.35" >G+U0126 vs.</text>
<text transform="translate(490,850.8) scale(0.94,1)" font-size="12.1" font-weight="bold" text-anchor="start" fill="#fff" stroke="#fff" stroke-width="0.35" >G800</text>
<rect x="169" y="858.3" width="395.20000000000005" height="24.5" fill="#cdcdcd"/>
<rect x="169" y="882.8" width="395.20000000000005" height="23.8" fill="#e8e8e8"/>
<rect x="169" y="906.6" width="395.20000000000005" height="23.9" fill="#cdcdcd"/>
<rect x="169" y="930.5" width="395.20000000000005" height="24.5" fill="#e8e8e8"/>
<rect x="169" y="955" width="395.20000000000005" height="24.6" fill="#cdcdcd"/>
<rect x="169" y="979.6" width="395.20000000000005" height="25.2" fill="#e8e8e8"/>
<rect x="169" y="1004.8" width="395.20000000000005" height="24.5" fill="#cdcdcd"/>
<rect x="169" y="1029.3" width="395.20000000000005" height="24.7" fill="#e8e8e8"/>
<text x="215" y="879.6" font-size="11.6" font-weight="normal" text-anchor="middle" fill="#1a1a1a" >0.0</text>
<text x="330.9" y="875.5" font-size="11.4" font-weight="normal" text-anchor="end" fill="#1a1a1a" >ns</text>
<text x="406.59999999999997" y="875.5" font-size="11.4" font-weight="normal" text-anchor="end" fill="#1a1a1a" >ns</text>
<text x="471.4" y="875.5" font-size="11.4" font-weight="normal" text-anchor="end" fill="#1a1a1a" >ns</text>
<text x="554.6" y="875.5" font-size="11.4" font-weight="normal" text-anchor="end" fill="#1a1a1a" >ns</text>
<text x="215" y="904.1" font-size="11.6" font-weight="normal" text-anchor="middle" fill="#1a1a1a" >12.5</text>
<text x="330.9" y="900.0" font-size="11.4" font-weight="normal" text-anchor="end" fill="#1a1a1a" >ns</text>
<text x="406.59999999999997" y="900.0" font-size="11.4" font-weight="normal" text-anchor="end" fill="#1a1a1a" >ns</text>
<text x="471.4" y="900.0" font-size="11.4" font-weight="normal" text-anchor="end" fill="#1a1a1a" >0.05</text>
<text x="554.6" y="900.0" font-size="11.4" font-weight="normal" text-anchor="end" fill="#1a1a1a" >ns</text>
<text x="215" y="927.9" font-size="11.6" font-weight="normal" text-anchor="middle" fill="#1a1a1a" >25</text>
<text x="330.9" y="923.8" font-size="11.4" font-weight="normal" text-anchor="end" fill="#1a1a1a" >ns</text>
<text x="406.59999999999997" y="923.8" font-size="11.4" font-weight="normal" text-anchor="end" fill="#1a1a1a" >ns</text>
<text x="471.4" y="923.8" font-size="11.4" font-weight="normal" text-anchor="end" fill="#1a1a1a" >ns</text>
<text x="554.6" y="923.8" font-size="11.4" font-weight="normal" text-anchor="end" fill="#1a1a1a" >ns</text>
<text x="215" y="951.8" font-size="11.6" font-weight="normal" text-anchor="middle" fill="#1a1a1a" >50</text>
<text x="330.9" y="947.7" font-size="11.4" font-weight="normal" text-anchor="end" fill="#1a1a1a" >0.001</text>
<text x="406.59999999999997" y="947.7" font-size="11.4" font-weight="normal" text-anchor="end" fill="#1a1a1a" >0.001</text>
<text x="471.4" y="947.7" font-size="11.4" font-weight="normal" text-anchor="end" fill="#1a1a1a" >ns</text>
<text x="554.6" y="947.7" font-size="11.4" font-weight="normal" text-anchor="end" fill="#1a1a1a" >ns</text>
<text x="215" y="976.3" font-size="11.6" font-weight="normal" text-anchor="middle" fill="#1a1a1a" >100</text>
<text x="330.9" y="972.2" font-size="11.4" font-weight="normal" text-anchor="end" fill="#1a1a1a" >0.001</text>
<text x="406.59999999999997" y="972.2" font-size="11.4" font-weight="normal" text-anchor="end" fill="#1a1a1a" >0.001</text>
<text x="471.4" y="972.2" font-size="11.4" font-weight="normal" text-anchor="end" fill="#1a1a1a" >ns</text>
<text x="554.6" y="972.2" font-size="11.4" font-weight="normal" text-anchor="end" fill="#1a1a1a" >0.05</text>
<text x="215" y="1000.9" font-size="11.6" font-weight="normal" text-anchor="middle" fill="#1a1a1a" >200</text>
<text x="330.9" y="996.8" font-size="11.4" font-weight="normal" text-anchor="end" fill="#1a1a1a" >0.001</text>
<text x="406.59999999999997" y="996.8" font-size="11.4" font-weight="normal" text-anchor="end" fill="#1a1a1a" >0.001</text>
<text x="471.4" y="996.8" font-size="11.4" font-weight="normal" text-anchor="end" fill="#1a1a1a" >ns</text>
<text x="554.6" y="996.8" font-size="11.4" font-weight="normal" text-anchor="end" fill="#1a1a1a" >ns</text>
<text x="215" y="1026.1" font-size="11.6" font-weight="normal" text-anchor="middle" fill="#1a1a1a" >400</text>
<text x="330.9" y="1022.0" font-size="11.4" font-weight="normal" text-anchor="end" fill="#1a1a1a" >0.001</text>
<text x="406.59999999999997" y="1022.0" font-size="11.4" font-weight="normal" text-anchor="end" fill="#1a1a1a" >0.05</text>
<text x="471.4" y="1022.0" font-size="11.4" font-weight="normal" text-anchor="end" fill="#1a1a1a" >ns</text>
<text x="554.6" y="1022.0" font-size="11.4" font-weight="normal" text-anchor="end" fill="#1a1a1a" >ns</text>
<text x="215" y="1050.6" font-size="11.6" font-weight="normal" text-anchor="middle" fill="#1a1a1a" >800</text>
<text x="330.9" y="1046.5" font-size="11.4" font-weight="normal" text-anchor="end" fill="#1a1a1a" >ns</text>
<text x="406.59999999999997" y="1046.5" font-size="11.4" font-weight="normal" text-anchor="end" fill="#1a1a1a" >ns</text>
<text x="471.4" y="1046.5" font-size="11.4" font-weight="normal" text-anchor="end" fill="#1a1a1a" >ns</text>
<text x="554.6" y="1046.5" font-size="11.4" font-weight="normal" text-anchor="end" fill="#1a1a1a" >0.01</text>
<path d="M260.5,858V1054M340.5,858V1054M416.2,858V1054M481,858V1054" stroke="#fff" stroke-width="1" fill="none"/>
<line x1="169" x2="564.2" y1="882.8" y2="882.8" stroke="#fff" stroke-width="0.8"/>
<line x1="169" x2="564.2" y1="906.6" y2="906.6" stroke="#fff" stroke-width="0.8"/>
<line x1="169" x2="564.2" y1="930.5" y2="930.5" stroke="#fff" stroke-width="0.8"/>
<line x1="169" x2="564.2" y1="955" y2="955" stroke="#fff" stroke-width="0.8"/>
<line x1="169" x2="564.2" y1="979.6" y2="979.6" stroke="#fff" stroke-width="0.8"/>
<line x1="169" x2="564.2" y1="1004.8" y2="1004.8" stroke="#fff" stroke-width="0.8"/>
<line x1="169" x2="564.2" y1="1029.3" y2="1029.3" stroke="#fff" stroke-width="0.8"/>
</svg></body></html>
